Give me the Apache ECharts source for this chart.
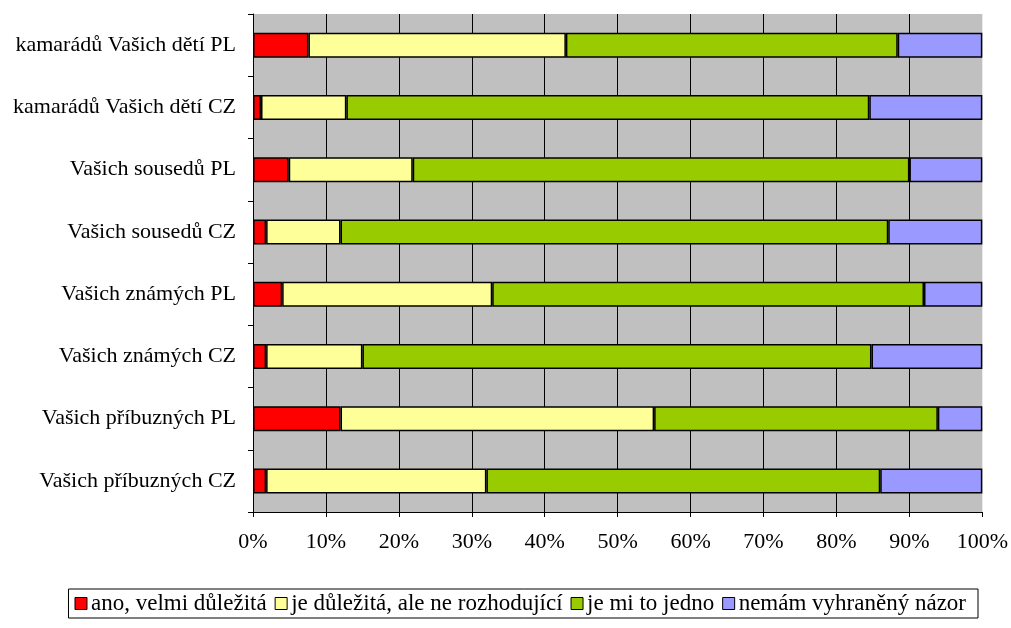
<!DOCTYPE html>
<html>
<head>
<meta charset="utf-8">
<script src="https://cdn.jsdelivr.net/npm/echarts@6/dist/echarts.min.js"></script>
<style>
  html, body { margin: 0; padding: 0; background: #fff; }
  #chart { width: 1011px; height: 628px; }
</style>
</head>
<body>
<div id="chart"></div>
<script>
// categories listed bottom to top (category axis starts at the bottom)
const categories = [
  'Vašich příbuzných CZ',
  'Vašich příbuzných PL',
  'Vašich známých CZ',
  'Vašich známých PL',
  'Vašich sousedů CZ',
  'Vašich sousedů PL',
  'kamarádů Vašich dětí CZ',
  'kamarádů Vašich dětí PL'
];

const seriesNames = [
  'ano, velmi důležitá',
  'je důležitá, ale ne rozhodující',
  'je mi to jedno',
  'nemám vyhraněný názor'
];

const velmiDulezita = [1.8, 12.0, 1.8, 4.0, 1.8, 4.9, 1.1, 7.6];
const dulezitaNeRozhodujici = [30.2, 43.0, 13.2, 28.8, 10.2, 17.0, 11.7, 35.3];
const jednoJe = [54.0, 38.9, 69.8, 59.2, 75.1, 68.1, 71.7, 45.5];
const nemamNazor = [14.0, 6.1, 15.2, 8.0, 12.9, 10.0, 15.5, 11.6];

const colors = ['#ff0000', '#ffff99', '#99cc00', '#9999ff'];
const FONT = '"Liberation Serif", "DejaVu Serif", serif';

const chart = echarts.init(document.getElementById('chart'));

const makeSeries = (name, data, i) => ({
  name,
  type: 'bar',
  stack: 'total',
  data,
  barWidth: 25,
  itemStyle: { color: colors[i], borderColor: '#000', borderWidth: 1.5 },
  emphasis: { disabled: true }
});

chart.setOption({
  animation: false,
  backgroundColor: '#fff',
  textStyle: { fontFamily: FONT },
  grid: {
    left: 253, right: 28, top: 14, bottom: 116,
    show: true, backgroundColor: '#c0c0c0', borderWidth: 0
  },
  xAxis: {
    type: 'value',
    min: 0, max: 100, interval: 10,
    axisLine: { show: true, lineStyle: { color: '#000', width: 1 } },
    axisTick: { show: true, length: 5, lineStyle: { color: '#000' } },
    axisLabel: { formatter: '{value}%', color: '#000', fontSize: 22, fontFamily: FONT, margin: 19 },
    splitLine: { show: true, showMaxLine: false, lineStyle: { color: '#000', width: 1 } }
  },
  yAxis: {
    type: 'category',
    data: categories,
    axisLine: { show: true, lineStyle: { color: '#000', width: 1 } },
    axisTick: { show: true, length: 5, alignWithLabel: false, lineStyle: { color: '#000' } },
    axisLabel: { color: '#000', fontSize: 22, fontFamily: FONT, margin: 17 },
    splitLine: { show: false }
  },
  legend: {
    data: seriesNames,
    right: 33, top: 589,
    orient: 'horizontal',
    icon: 'rect',
    itemWidth: 12, itemHeight: 12,
    itemGap: 8,
    padding: [3, 12, 3, 6],
    borderColor: '#000', borderWidth: 1,
    itemStyle: { borderColor: '#000', borderWidth: 1 },
    textStyle: { color: '#000', fontSize: 23, fontFamily: FONT, padding: [0, 0, 0, -1] }
  },
  series: [
    makeSeries(seriesNames[0], velmiDulezita, 0),
    makeSeries(seriesNames[1], dulezitaNeRozhodujici, 1),
    makeSeries(seriesNames[2], jednoJe, 2),
    makeSeries(seriesNames[3], nemamNazor, 3)
  ]
});
</script>
</body>
</html>
